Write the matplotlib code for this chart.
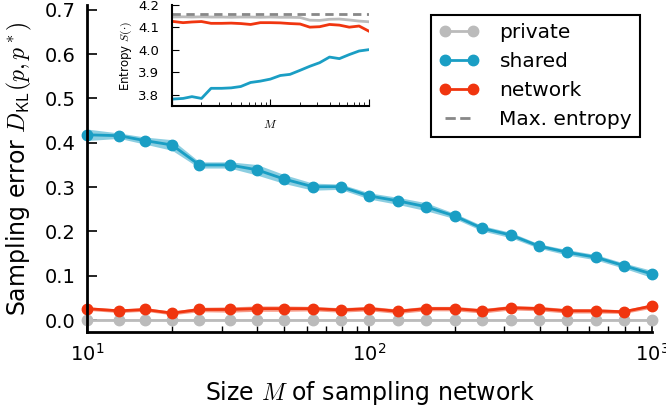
import matplotlib
matplotlib.use("Agg")
import matplotlib.pyplot as plt

plt.rcParams['mathtext.fontset'] = 'cm'
plt.rcParams['font.family'] = ['DejaVu Sans']

# sampling network sizes
M = [10, 13, 16, 20, 25, 32, 40, 50, 63, 79, 100, 126, 158, 200, 251, 316, 398, 501, 631, 794, 1000]

# main panel: KL divergence
private_kl = [0.0] * 21
private_err = [0.002] * 21
shared_kl = [0.418, 0.416, 0.405, 0.395, 0.350, 0.350, 0.339, 0.318, 0.301, 0.301, 0.280,
             0.269, 0.256, 0.235, 0.207, 0.192, 0.167, 0.153, 0.142, 0.123, 0.104]
shared_err = [0.013, 0.006, 0.008, 0.012, 0.007, 0.007, 0.012, 0.010, 0.008, 0.006, 0.007,
              0.008, 0.009, 0.006, 0.006, 0.006, 0.005, 0.006, 0.006, 0.006, 0.008]
network_kl = [0.026, 0.021, 0.024, 0.016, 0.024, 0.024, 0.026, 0.026, 0.026, 0.023, 0.026,
              0.020, 0.026, 0.026, 0.021, 0.028, 0.026, 0.021, 0.021, 0.019, 0.032]
network_err = [0.004, 0.004, 0.004, 0.004, 0.005, 0.006, 0.006, 0.006, 0.005, 0.005, 0.005,
               0.005, 0.005, 0.005, 0.005, 0.005, 0.005, 0.005, 0.005, 0.004, 0.005]

# inset: entropy
private_S = [4.146, 4.147, 4.146, 4.147, 4.146, 4.146, 4.145, 4.146, 4.146, 4.145, 4.146,
             4.145, 4.145, 4.144, 4.132, 4.131, 4.136, 4.137, 4.133, 4.128, 4.125]
shared_S = [3.781, 3.784, 3.792, 3.784, 3.829, 3.829, 3.831, 3.837, 3.855, 3.861, 3.870,
            3.886, 3.891, 3.909, 3.927, 3.943, 3.968, 3.961, 3.979, 3.995, 4.001]
network_S = [4.127, 4.121, 4.124, 4.126, 4.118, 4.118, 4.119, 4.117, 4.113, 4.121, 4.121,
             4.120, 4.117, 4.115, 4.101, 4.103, 4.113, 4.110, 4.101, 4.106, 4.083]
max_entropy = 4.159

c_priv = '#bbbbbb'
c_shared = '#1a9ec4'
c_net = '#f0350f'

fig = plt.figure(figsize=(6.66, 4.08), dpi=100)
ax = fig.add_axes([0.1306, 0.186, 0.8484, 0.802])

def band(a, y, e, c):
    lo = [v - d for v, d in zip(y, e)]
    hi = [v + d for v, d in zip(y, e)]
    a.fill_between(M, lo, hi, color=c, alpha=0.5, lw=0)

band(ax, private_kl, private_err, c_priv)
band(ax, shared_kl, shared_err, c_shared)
band(ax, network_kl, network_err, c_net)
ax.plot(M, private_kl, '-o', color=c_priv, lw=2, ms=7.5, mec=c_priv, label='private', clip_on=False)
ax.plot(M, shared_kl, '-o', color=c_shared, lw=2, ms=7.5, mec=c_shared, label='shared', clip_on=False)
ax.plot(M, network_kl, '-o', color=c_net, lw=2, ms=7.5, mec=c_net, label='network', clip_on=False)
ax.plot([], [], '--', color='#888888', lw=2, label='Max. entropy')

ax.set_xscale('log')
ax.set_xlim(10, 1000)
ax.set_ylim(-0.027, 0.711)
ax.set_yticks([0.0, 0.1, 0.2, 0.3, 0.4, 0.5, 0.6, 0.7])
ax.spines['top'].set_visible(False)
ax.spines['right'].set_visible(False)
ax.spines['left'].set_linewidth(2)
ax.spines['bottom'].set_linewidth(2)
ax.tick_params(which='both', direction='in', top=False, right=False, labelsize=14, pad=8)
ax.tick_params(which='major', length=7, width=1.2)
ax.tick_params(which='minor', length=4, width=1)
ax.set_xlabel('Size $M$ of sampling network', fontsize=17, labelpad=10)
ax.set_ylabel(r'Sampling error $D_{\mathsf{KL}}(p,p^*)$', fontsize=17, labelpad=8)

leg = ax.legend(loc='upper right', bbox_to_anchor=(0.979, 0.969), borderaxespad=0,
                fontsize=14.5, numpoints=2, fancybox=False, framealpha=1,
                handlelength=2, handletextpad=1.0, labelspacing=0.5)
leg.get_frame().set_edgecolor('black')
leg.get_frame().set_linewidth(1.5)

# inset
ins = fig.add_axes([0.258, 0.740, 0.296, 0.248])
ins.plot(M, private_S, color=c_priv, lw=2)
ins.plot(M, network_S, color=c_net, lw=2)
ins.plot(M, shared_S, color=c_shared, lw=2)
ins.axhline(max_entropy, color='#888888', ls=(0, (3, 2)), lw=2)
ins.set_xscale('log')
ins.set_xlim(10, 1000)
ins.set_ylim(3.75, 4.2)
ins.set_yticks([3.8, 3.9, 4.0, 4.1, 4.2])
ins.set_xticklabels([])
ins.xaxis.set_minor_formatter(plt.NullFormatter())
ins.spines['top'].set_visible(False)
ins.spines['right'].set_visible(False)
ins.spines['left'].set_linewidth(1.5)
ins.spines['bottom'].set_linewidth(1.5)
ins.tick_params(which='both', direction='in', top=False, right=False, labelsize=9.5)
ins.tick_params(axis='y', pad=9)
ins.tick_params(which='major', length=5)
ins.tick_params(which='minor', length=3)
ins.set_xlabel('$M$', fontsize=8.5, labelpad=5)
ins.set_ylabel(r'Entropy $S(\cdot)$', fontsize=8.5, labelpad=3)

fig.savefig('out.png', dpi=100)
